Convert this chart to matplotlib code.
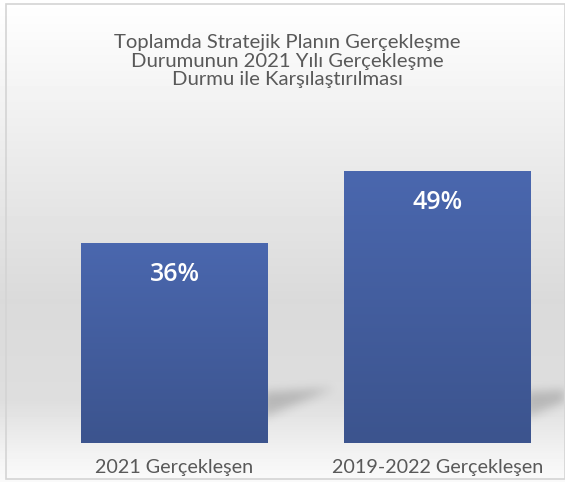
import numpy as np
import matplotlib
matplotlib.use("Agg")
import matplotlib.pyplot as plt
from matplotlib.patches import Rectangle
from matplotlib.path import Path

categories = ["2021 Gerçekleşen", "2019-2022 Gerçekleşen"]
values = [36, 49]
value_labels = ["36%", "49%"]
title = "Toplamda Stratejik Planın Gerçekleşme\nDurumunun 2021 Yılı Gerçekleşme\nDurmu ile Karşılaştırılması"

W, H = 565, 482
fig = plt.figure(figsize=(W / 100, H / 100), dpi=100)

# background gradient (pixel coords)
bg = fig.add_axes([0, 0, 1, 1])
bg.set_axis_off()
ys = np.array([0, 20, 150, 300, 400, 460, 482])
gs = np.array([1.0, 0.99, 0.925, 0.855, 0.87, 0.96, 0.98])
g = np.interp(np.arange(H), ys, gs)
img = np.repeat(g[:, None], 2, axis=1)
bg.imshow(img, cmap="gray", vmin=0, vmax=1, aspect="auto", extent=[0, W, H, 0])

# soft shadows right of the bars
yy, xx = np.mgrid[0:H, 0:W]
pts = np.column_stack([xx.ravel() + 0.5, yy.ravel() + 0.5])
mask = np.zeros(H * W)
for dx in (0, 263):
    wedge = Path([(262 + dx, 392), (334 + dx, 388), (262 + dx, 418)])
    mask += wedge.contains_points(pts)
mask = mask.reshape(H, W)
k = np.exp(-0.5 * (np.arange(-15, 16) / 5.0) ** 2)
k /= k.sum()
mask = np.apply_along_axis(lambda r: np.convolve(r, k, mode="same"), 1, mask)
mask = np.apply_along_axis(lambda c: np.convolve(c, k, mode="same"), 0, mask)
shadow = np.zeros((H, W, 4))
shadow[..., 3] = mask * 0.18
bg.imshow(shadow, aspect="auto", extent=[0, W, H, 0])

bg.set_xlim(0, W)
bg.set_ylim(H, 0)
bg.add_patch(Rectangle((5.5, 3.5), W - 6, 475, fill=False, edgecolor="#d4d4d4", lw=1.2))

bg.text(287, 61, title, ha="center", va="center", fontsize=14.6, color="#595959",
        family="Lato", linespacing=1.08)

# bars
ax = fig.add_axes([43 / W, 39 / H, 526 / W, 333 / H])
ax.set_axis_off()
x = np.arange(len(values))
bw = 0.711
bars = ax.bar(x, values, width=bw, color="#4562a6", zorder=3)

grad = np.linspace(0, 1, 100)[:, None]
cmap = matplotlib.colors.LinearSegmentedColormap.from_list("b", ["#3c548e", "#4a67ae"])
for b, v in zip(bars, values):
    x0 = b.get_x()
    im = ax.imshow(grad, cmap=cmap, aspect="auto", extent=[x0, x0 + bw, 0, v], origin="lower", zorder=4)
    im.set_clip_path(b)

for xi, v, lab in zip(x, values, value_labels):
    ax.text(xi, v - 5.6, lab, ha="center", va="center", color="white", fontsize=18,
            fontweight="semibold", family="Open Sans", zorder=5)

for xi, c in zip(x, categories):
    ax.text(xi, -4.4, c, ha="center", va="center", color="#595959", fontsize=14.2,
            family="Lato")

ax.set_xlim(-0.5, 1.5)
ax.set_ylim(0, 60)
fig.savefig("out.png", dpi=100)
